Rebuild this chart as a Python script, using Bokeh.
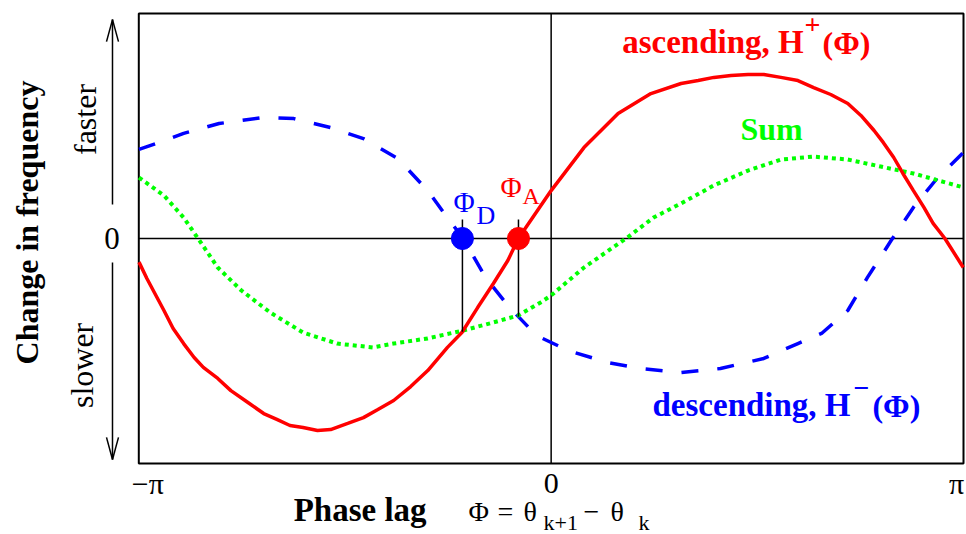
import numpy as np
from bokeh.plotting import figure
from bokeh.models import Range1d, Label
from bokeh.embed import file_html
from bokeh.resources import INLINE

# ---- data ----
red_phi = [-3.14, -3.08, -2.95, -2.88, -2.80, -2.72, -2.65, -2.54, -2.44, -2.31, -2.19, -2.09,
           -1.99, -1.89, -1.78, -1.68, -1.55, -1.43, -1.32, -1.20, -1.07, -0.94, -0.79, -0.68,
           -0.56, -0.44, -0.33, -0.25, 0.0, 0.25, 0.51, 0.76, 0.99, 1.12, 1.24, 1.37, 1.50,
           1.62, 1.75, 1.88, 2.00, 2.13, 2.26, 2.36, 2.46, 2.53, 2.61, 2.68, 2.76, 2.84,
           2.91, 3.00, 3.14]
red_val = [-0.105, -0.178, -0.320, -0.400, -0.467, -0.529, -0.573, -0.622, -0.676, -0.729, -0.778, -0.804,
           -0.831, -0.840, -0.853, -0.849, -0.822, -0.796, -0.760, -0.720, -0.658, -0.587, -0.484, -0.418,
           -0.307, -0.200, -0.098, 0.0, 0.213, 0.404, 0.556, 0.644, 0.689, 0.702, 0.716, 0.724, 0.729,
           0.729, 0.716, 0.702, 0.671, 0.640, 0.600, 0.547, 0.480, 0.427, 0.360, 0.289, 0.213, 0.138,
           0.067, 0.0, -0.129]

blue_phi = [-3.14, -3.01, -2.80, -2.53, -2.19, -1.96, -1.68, -1.43, -1.17, -0.94, -0.82, -0.67,
            -0.50, -0.33, -0.17, -0.08, 0.13, 0.43, 0.68, 0.99, 1.29, 1.62, 1.88, 2.06, 2.26,
            2.41, 2.59, 2.76, 2.94, 3.14]
blue_val = [0.396, 0.422, 0.467, 0.511, 0.538, 0.533, 0.493, 0.444, 0.356, 0.213, 0.116, 0.0,
            -0.173, -0.298, -0.396, -0.44, -0.498, -0.551, -0.578, -0.596, -0.578, -0.533, -0.467, -0.422, -0.32,
            -0.173, -0.009, 0.138, 0.267, 0.382]

sum_phi = [-3.14, -2.95, -2.80, -2.69, -2.54, -2.36, -2.14, -1.89, -1.63, -1.36, -1.20, -0.94,
           -0.67, -0.44, -0.25, -0.08, 0.0, 0.25, 0.58, 0.78, 0.99, 1.24, 1.50, 1.75, 2.00,
           2.26, 2.51, 2.76, 3.14]
sum_val = [0.271, 0.191, 0.093, 0.0, -0.129, -0.231, -0.329, -0.418, -0.467, -0.484, -0.467, -0.444,
           -0.409, -0.373, -0.342, -0.284, -0.253, -0.129, 0.004, 0.093, 0.156, 0.236, 0.302, 0.351, 0.364,
           0.351, 0.32, 0.289, 0.227]

phi_D = -0.676
phi_A = -0.249

x_ticks = [-np.pi, 0.0, np.pi]
x_tick_labels = ["\u2212\u03c0", "0", "\u03c0"]
y_ticks = [0.0]
y_tick_labels = ["0"]

RED = "#ff0000"
BLUE = "#0000ff"
GREEN = "#00ff00"
FONT = "Liberation Serif"

# ---- canvas / scales: the plot box spans [-pi, pi] x [-1, 1] ----
W, H = 966, 534
BOX_L, BOX_R, BOX_T, BOX_B = 138.3, 963.0, 13.0, 463.0
SX = (BOX_R - BOX_L) / (2 * np.pi)
SY = (BOX_B - BOX_T) / 2.0
x_lo = -np.pi - BOX_L / SX
x_hi = np.pi + (W - BOX_R) / SX
y_hi = 1.0 + BOX_T / SY
y_lo = -1.0 - (H - BOX_B) / SY

p = figure(width=W, height=H, x_range=Range1d(x_lo, x_hi), y_range=Range1d(y_lo, y_hi),
           output_backend="svg", toolbar_location=None, x_axis_type=None, y_axis_type=None,
           min_border=0)
p.xgrid.visible = False
p.ygrid.visible = False
p.outline_line_color = None
p.background_fill_color = "white"
p.border_fill_color = "white"

# plot box and zero lines
p.quad(left=[-np.pi], right=[np.pi], bottom=[-1], top=[1], fill_color=None,
       line_color="black", line_width=2)
p.segment(x0=[-np.pi, 0.0], y0=[0.0, -1.0], x1=[np.pi, 0.0], y1=[0.0, 1.0],
          line_color="black", line_width=1.5)

# curves
p.line(blue_phi, blue_val, line_color=BLUE, line_width=3.5, line_dash="17 19")
p.line(sum_phi, sum_val, line_color=GREEN, line_width=4, line_dash="4 4")
p.line(red_phi, red_val, line_color=RED, line_width=3.5)

# marker lines
top = 0.084
p.segment(x0=[phi_D, phi_A], y0=[top, top],
          x1=[phi_D, phi_A],
          y1=[float(np.interp(phi_D, red_phi, red_val)), float(np.interp(phi_A, blue_phi, blue_val))],
          line_color="black", line_width=1.5)
p.scatter([phi_D], [0], size=22, color=BLUE)
p.scatter([phi_A], [0], size=22, color=RED)

LIFT = 0.31  # baseline correction (in em) for alphabetic-baseline labels


def lab(x, y, text, size, color="black", bold=False, align="left", baseline="alphabetic",
        angle=0.0, x_offset=0):
    lift = LIFT * size if baseline == "alphabetic" else 0.0
    if angle == 0.0:
        xo, yo = x_offset, lift
    else:
        xo, yo = x_offset - lift, 0.0
    p.add_layout(Label(x=x, y=y, text=text, text_font=FONT, text_font_size=f"{size}px",
                       text_font_style="bold" if bold else "normal", text_color=color,
                       text_align=align, text_baseline=baseline, angle=angle,
                       x_offset=xo, y_offset=yo))


# tick labels
for t, s, off in zip(x_ticks, x_tick_labels, [9, 0, -7]):
    lab(t, -1.129, s, 30, "black", False, "center", "alphabetic", 0.0, off)
for t, s in zip(y_ticks, y_tick_labels):
    lab(-np.pi, t, s, 31, "black", False, "right", "middle", 0.0, -19)

# curve labels
lab(1.924, 0.827, "ascending, H", 33, RED, True, "right")
lab(1.931, 0.911, "+", 28, RED, True)
lab(2.068, 0.827, "(\u03a6)", 32, RED, True)
lab(1.679, 0.444, "Sum", 32, GREEN, True, "center")
lab(2.281, -0.787, "descending, H", 33, BLUE, True, "right")
lab(2.304, -0.702, "\u2212", 28, BLUE, True)
lab(2.448, -0.787, "(\u03a6)", 32, BLUE, True)

# point labels
lab(-0.744, 0.124, "\u03a6", 29, BLUE)
lab(-0.569, 0.067, "D", 26, BLUE)
lab(-0.386, 0.187, "\u03a6", 29, RED)
lab(-0.219, 0.156, "A", 24, RED)

# left margin: axis title, faster / slower and arrows
lab(-3.921, 0.071, "Change in frequency", 32, "black", True, "center", "alphabetic", np.pi / 2)
lab(-3.479, 0.529, "faster", 32, "black", False, "center", "alphabetic", np.pi / 2)
lab(-3.495, -0.564, "slower", 32, "black", False, "center", "alphabetic", np.pi / 2)

ax_x = -3.342
hw, hl = 0.0457, 0.098
sx0, sy0, sx1, sy1 = [], [], [], []
for (y0, y1) in [(0.151, 0.973), (-0.107, -0.982)]:
    sgn = 1 if y1 > y0 else -1
    sx0 += [ax_x, ax_x - hw, ax_x + hw]
    sy0 += [y0, y1 - sgn * hl, y1 - sgn * hl]
    sx1 += [ax_x, ax_x, ax_x]
    sy1 += [y1, y1, y1]
p.segment(x0=sx0, y0=sy0, x1=sx1, y1=sy1, line_color="black", line_width=1.5)

# bottom: x axis title
lab(-1.962, -1.253, "Phase lag", 33, "black", True)
lab(-0.630, -1.253, "\u03a6", 28)
lab(-0.409, -1.253, "=", 28)
lab(-0.211, -1.253, "\u03b8", 28)
lab(-0.058, -1.291, "k+1", 22)
lab(0.247, -1.253, "\u2212", 28)
lab(0.452, -1.253, "\u03b8", 28)
lab(0.666, -1.291, "k", 22)

open("out.html", "w").write(file_html(p, INLINE))
